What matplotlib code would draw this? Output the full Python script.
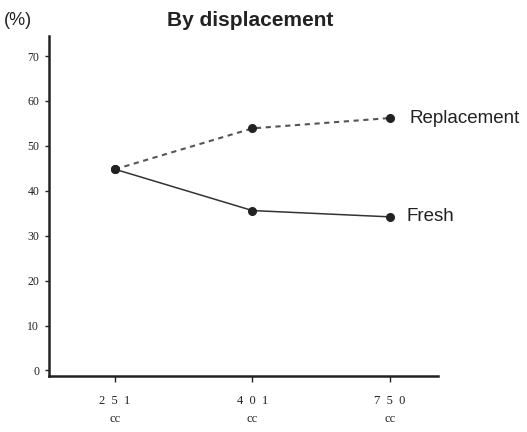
import matplotlib.pyplot as plt

sizes = ['2  5  1\ncc', '4  0  1\ncc', '7  5  0\ncc']
replacement = [44.8, 53.9, 56.2]
fresh = [44.8, 35.6, 34.2]
yticks = [0, 10, 20, 30, 40, 50, 60, 70]

fig = plt.figure(figsize=(5.27, 4.32), dpi=100)
ax = fig.add_axes([0.093, 0.13, 0.738, 0.787])

x = range(len(sizes))
ax.plot(x, replacement, linestyle=(0, (2.5, 2.2)), color='#555555', lw=1.5,
        marker='o', ms=5.5, mfc='#222222', mec='#222222')
ax.plot(x, fresh, linestyle='-', color='#333333', lw=1.1,
        marker='o', ms=5.5, mfc='#222222', mec='#222222')

ax.text(2.14, replacement[-1], 'Replacement', fontsize=13.5, va='center', ha='left',
        family='Liberation Sans', color='#222222', clip_on=False)
ax.text(2.12, fresh[-1], 'Fresh', fontsize=13.5, va='center', ha='left',
        family='Liberation Sans', color='#222222', clip_on=False)

ax.set_xlim(-0.48, 2.35)
ax.set_ylim(-1.2, 74.5)
ax.set_xticks(list(x))
ax.set_xticklabels(sizes, family='Liberation Serif', fontsize=9, linespacing=1.6)
ax.set_yticks(yticks)
ax.set_yticklabels([str(v) for v in yticks], family='Liberation Serif', fontsize=8.5)

for s in ['top', 'right']:
    ax.spines[s].set_visible(False)
for s in ['left', 'bottom']:
    ax.spines[s].set_linewidth(1.8)
    ax.spines[s].set_color('#222222')
ax.tick_params(axis='y', length=3, width=1, pad=4, colors='#222222')
ax.tick_params(axis='x', length=4, width=1, pad=10, colors='#222222')

fig.text(0.475, 0.952, 'By displacement', fontsize=15, fontweight='bold',
         family='Liberation Sans', ha='center', va='center', color='#222222')
fig.text(0.008, 0.952, '(%)', fontsize=13, family='Liberation Sans',
         ha='left', va='center', color='#222222')

fig.savefig('out.png', dpi=100)
